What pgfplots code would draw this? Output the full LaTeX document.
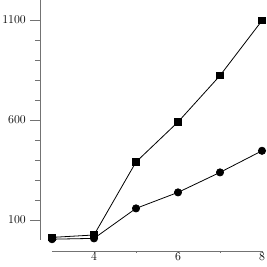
\documentclass[border=0pt]{standalone}
\usepackage{pgfplots}
\pgfplotsset{compat=1.18}
\begin{document}
\begin{tikzpicture}
\begin{axis}[
  scale only axis, width=222pt, height=251pt,
  xmin=2.714, xmax=8, ymin=-55, ymax=1200,
  axis lines*=left,
  axis line style={black!55, line width=0.6pt},
  x axis line style={shorten <=12pt},
  y axis line style={shorten <=11pt},
  xtick={4,6,8}, minor xtick={5,7},
  ytick={100,600,1100}, minor ytick={200,300,400,500,700,800,900,1000},
  tick align=outside,
  major tick length=10pt, minor tick length=5pt,
  tick style={black!55, line width=0.6pt},
  xtick style={/pgfplots/major tick length=2pt, /pgfplots/minor tick length=2pt},
  /pgf/number format/1000 sep={},
  tick label style={font=\fontsize{12.5}{14}\selectfont},
  y tick label style={inner sep=0pt, xshift=-4pt},
  x tick label style={inner sep=0pt, yshift=8pt},
  clip=false,
]
\addplot[black, line width=0.8pt, mark=square*, mark size=3.2pt, mark options={solid}] coordinates {(3,13) (4,25) (5,390) (6,590) (7,822) (8,1097)};
\addplot[black, line width=0.8pt, mark=*, mark size=3.6pt] coordinates {(3,4) (4,8) (5,158) (6,238) (7,338) (8,446)};
\end{axis}
\pgfresetboundingbox
\path[use as bounding box] ([shift={(-40pt,-16pt)}]current axis.south west) rectangle ([shift={(5pt,0pt)}]current axis.north east);
\end{tikzpicture}
\end{document}
